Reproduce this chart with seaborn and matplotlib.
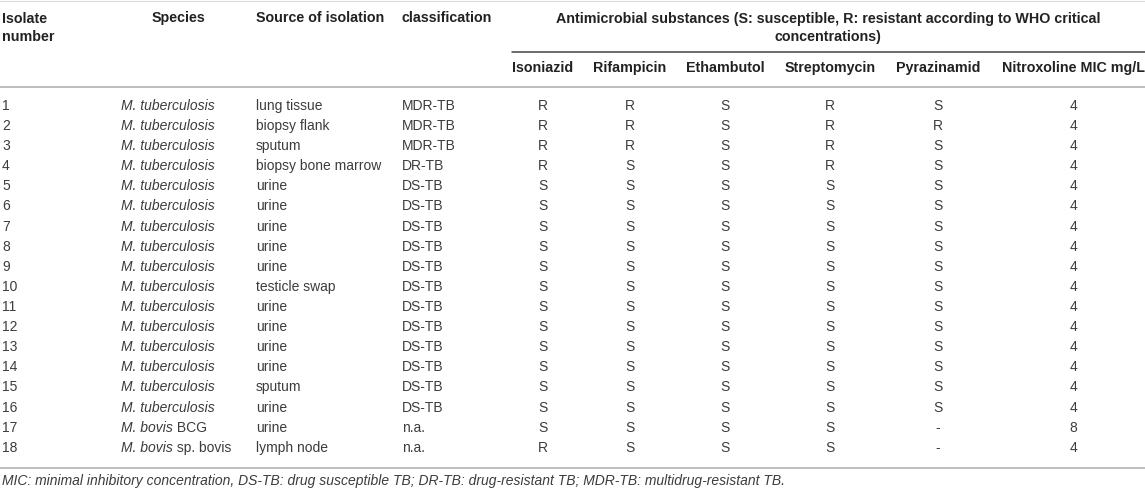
import matplotlib
matplotlib.use("Agg")
import matplotlib.pyplot as plt
import seaborn as sns

# table content
isolate = [str(i) for i in range(1, 19)]
species_it = ["M. tuberculosis"] * 16 + ["M. bovis", "M. bovis"]
species_rest = [""] * 16 + [" BCG", " sp. bovis"]
source = ["lung tissue", "biopsy flank", "sputum", "biopsy bone marrow", "urine", "urine",
          "urine", "urine", "urine", "testicle swap", "urine", "urine", "urine", "urine",
          "sputum", "urine", "urine", "lymph node"]
classification = ["MDR-TB", "MDR-TB", "MDR-TB", "DR-TB"] + ["DS-TB"] * 12 + ["n.a.", "n.a."]
isoniazid = ["R", "R", "R", "R"] + ["S"] * 12 + ["S", "R"]
rifampicin = ["R", "R", "R", "S"] + ["S"] * 14
ethambutol = ["S"] * 18
streptomycin = ["R", "R", "R", "R"] + ["S"] * 14
pyrazinamid = ["S", "R", "S", "S"] + ["S"] * 12 + ["-", "-"]
nitroxoline = ["4"] * 16 + ["8", "4"]

drug_headers = ["Isoniazid", "Rifampicin", "Ethambutol", "Streptomycin", "Pyrazinamid",
                "Nitroxoline MIC mg/L"]
drug_cols = [isoniazid, rifampicin, ethambutol, streptomycin, pyrazinamid, nitroxoline]
group_title = "Antimicrobial substances (S: susceptible, R: resistant according to WHO critical\nconcentrations)"
footnote = ("MIC: minimal inhibitory concentration, DS-TB: drug susceptible TB; "
            "DR-TB: drug-resistant TB; MDR-TB: multidrug-resistant TB.")

sns.set_theme(style="white")
plt.rcParams["font.family"] = ["Liberation Sans", "DejaVu Sans"]

W, H = 1145, 491
fig = plt.figure(figsize=(W / 100, H / 100), dpi=100)
ax = fig.add_axes([0, 0, 1, 1])
ax.set_xlim(0, W)
ax.set_ylim(H, 0)
ax.axis("off")

hdr = dict(fontsize=10.3, fontweight="bold", color="#222222", va="center")
val = dict(fontsize=10.0, color="#3c3c3c", va="center")

# rules
ax.plot([0, W], [1, 1], color="#dcdcdc", lw=0.8)
ax.plot([512, W], [52, 52], color="#444444", lw=1.1)
ax.plot([0, W], [87, 87], color="#bdbdbd", lw=1.4)
ax.plot([0, W], [468, 468], color="#bdbdbd", lw=1.4)

# headers
ax.text(2, 28, "Isolate\nnumber", ha="left", linespacing=1.4, **hdr)
ax.text(178, 18, "Species", ha="center", **hdr)
ax.text(256, 18, "Source of isolation", ha="left", **hdr)
ax.text(402, 18, "classification", ha="left", **hdr)
ax.text(828, 28, group_title, ha="center", linespacing=1.4, **hdr)

drug_x = [543, 630, 725, 830, 938, 1073]
for x, h in zip(drug_x, drug_headers):
    ax.text(x, 68, h, ha="center", **hdr)

y0, dy = 106, 20.1
fig.canvas.draw()
renderer = fig.canvas.get_renderer()
inv = ax.transData.inverted()
for i in range(len(isolate)):
    y = y0 + i * dy
    ax.text(2, y, isolate[i], ha="left", **val)
    t = ax.text(121, y, species_it[i], ha="left", style="italic", **val)
    if species_rest[i]:
        bb = t.get_window_extent(renderer=renderer)
        x_end = inv.transform((bb.x1, bb.y0))[0]
        ax.text(x_end, y, species_rest[i], ha="left", **val)
    ax.text(256, y, source[i], ha="left", **val)
    ax.text(402, y, classification[i], ha="left", **val)
    for x, col in zip(drug_x, drug_cols):
        ax.text(x, y, col[i], ha="center", **val)

ax.text(2, 481, footnote, ha="left", style="italic", **val)

fig.savefig("out.png", dpi=100)
